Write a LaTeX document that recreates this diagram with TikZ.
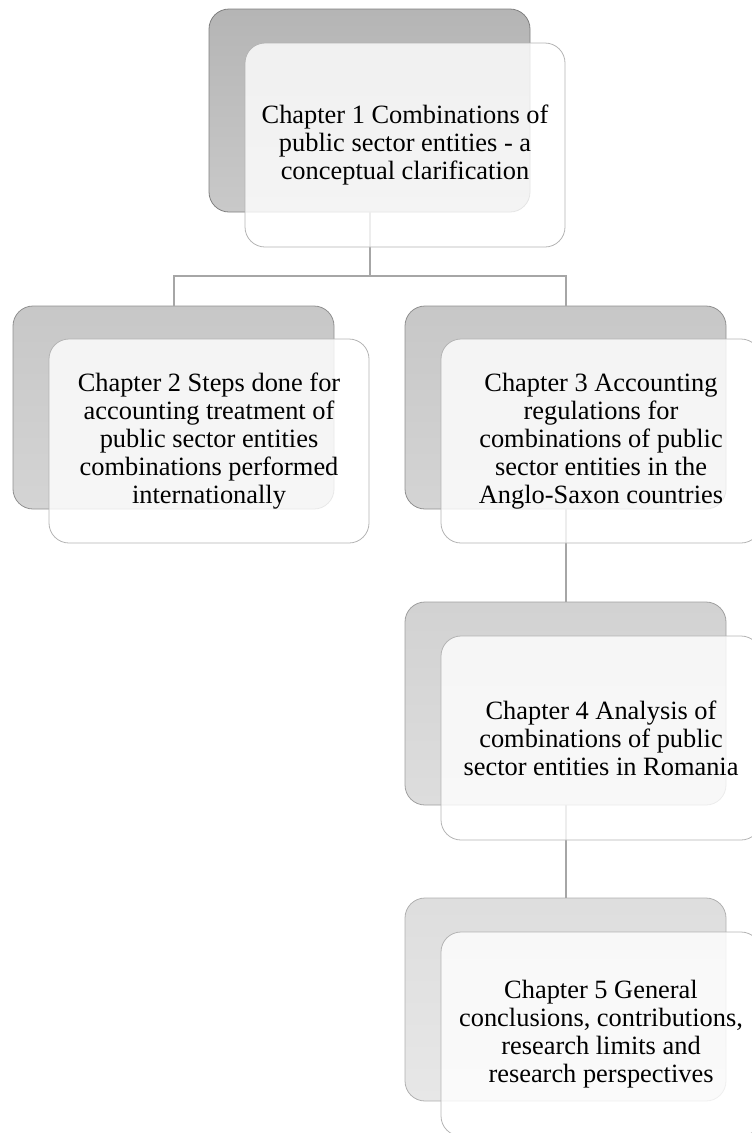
\documentclass[tikz,border=0pt]{standalone}
\usepackage{fontspec}
\setmainfont{Liberation Serif}
\definecolor{conn}{HTML}{A6A6A6}
\definecolor{frontline}{HTML}{B4B4B4}
\definecolor{backA}{HTML}{C9C9C9}
\definecolor{backB}{HTML}{D4D4D4}
\definecolor{backC}{HTML}{DDDDDD}
\definecolor{backD}{HTML}{E7E7E7}
\definecolor{edgeA}{HTML}{808080}
\definecolor{edgeB}{HTML}{909090}
\definecolor{edgeC}{HTML}{A0A0A0}
\definecolor{edgeD}{HTML}{B0B0B0}
\tikzset{
  backbox/.style={rectangle, rounded corners=20pt, minimum width=321pt, minimum height=203pt, line width=0.8pt, inner sep=0pt},
  frontbox/.style={rectangle, rounded corners=20pt, minimum width=320pt, minimum height=204pt, draw=frontline, line width=0.8pt, fill=white, fill opacity=0.8, text opacity=1, align=center, inner sep=0pt, font=\fontsize{26.4}{28}\selectfont},
  link/.style={draw=conn, line width=2pt}
}
\begin{document}
\begin{tikzpicture}[x=1pt,y=-1pt]
\useasboundingbox (0,0) rectangle (752,1133);
% back boxes
\node[backbox, draw=edgeA, top color=backA!90!black, bottom color=backA] (b1) at (369.5,110.5) {};
\node[backbox, draw=edgeB, top color=backB!94!black, bottom color=backB] (b2) at (173.5,407.5) {};
\node[backbox, draw=edgeB, top color=backB!94!black, bottom color=backB] (b3) at (565.5,407.5) {};
\node[backbox, draw=edgeC, top color=backC!95!black, bottom color=backC] (b4) at (565.5,703.5) {};
\node[backbox, draw=edgeD, top color=backD!96!black, bottom color=backD] (b5) at (565.5,999.5) {};
% connectors
\coordinate (j) at (369.5,275.5);
\draw[link] (b1.south) -- (j);
\draw[link] (j) -| (b2.north);
\draw[link] (j) -| (b3.north);
\draw[link] (b3.south) -- (b4.north);
\draw[link] (b4.south) -- (b5.north);
% front boxes
\node[frontbox] (f1) at (405,145) {Chapter 1 Combinations of\\public sector entities - a\\conceptual clarification};
\node[frontbox] (f2) at (209,441) {Chapter 2 Steps done for\\accounting treatment of\\public sector entities\\combinations performed\\internationally};
\node[frontbox] (f3) at (601,441) {Chapter 3 Accounting\\regulations for\\combinations of public\\sector entities in the\\Anglo-Saxon countries};
\node[frontbox] (f4) at (601,738) {Chapter 4 Analysis of\\combinations of public\\sector entities in Romania};
\node[frontbox] (f5) at (601,1034) {Chapter 5 General\\conclusions, contributions,\\research limits and\\research perspectives};
\end{tikzpicture}
\end{document}
